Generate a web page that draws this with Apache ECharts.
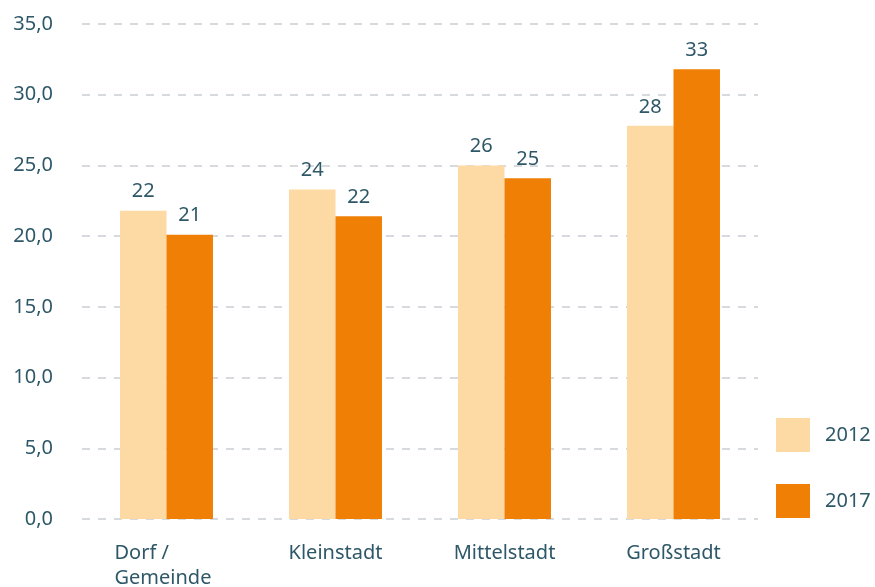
<!DOCTYPE html>
<html>
<head>
<meta charset="utf-8">
<script src="https://cdn.jsdelivr.net/npm/echarts@6/dist/echarts.min.js"></script>
<style>
  html, body { margin: 0; padding: 0; background: #fff; }
  #chart { width: 875px; height: 587px; }
</style>
</head>
<body>
<div id="chart"></div>
<script>
// Kategorien und Werte
var categories = ['Dorf / Gemeinde', 'Kleinstadt', 'Mittelstadt', 'Großstadt'];
var values2012 = [21.8, 23.3, 25.0, 27.8];
var values2017 = [20.1, 21.4, 24.1, 31.8];
// Beschriftungen über den Balken
var labels2012 = [22, 24, 26, 28];
var labels2017 = [21, 22, 25, 33];

var textColor = '#2e5868';
var fontFamily = '"Noto Sans", "Open Sans", sans-serif';
var fs = 20;

var myChart = echarts.init(document.getElementById('chart'));

function barLabel(labels) {
    return {
        show: true,
        position: 'top',
        distance: 9,
        color: textColor,
        fontSize: fs,
        fontFamily: fontFamily,
        formatter: function (p) { return labels[p.dataIndex]; }
    };
}

var option = {
    animation: false,
    grid: { left: 82, top: 24, width: 676, height: 495, outerBoundsMode: 'none' },
    legend: {
        orient: 'vertical',
        left: 771,
        top: 413,
        itemWidth: 34,
        itemHeight: 34,
        itemGap: 32,
        icon: 'rect',
        textStyle: { color: textColor, fontSize: fs, fontFamily: fontFamily, padding: [0, 0, 0, 10] },
        data: ['2012', '2017']
    },
    xAxis: {
        type: 'category',
        data: categories,
        axisLine: { show: false },
        axisTick: { show: false },
        axisLabel: {
            margin: 22,
            color: textColor,
            fontSize: fs,
            fontFamily: fontFamily,
            lineHeight: 25,
            formatter: function (v) {
                if (v === 'Dorf / Gemeinde') return '{l|Dorf /}\n{l|Gemeinde}';
                return v;
            },
            rich: {
                l: { width: 104, align: 'left', color: textColor, fontSize: fs, fontFamily: fontFamily, lineHeight: 25 }
            }
        }
    },
    yAxis: {
        type: 'value',
        min: 0,
        max: 35,
        interval: 5,
        axisLine: { show: false },
        axisTick: { show: false },
        axisLabel: {
            margin: 29,
            color: textColor,
            fontSize: fs,
            fontFamily: fontFamily,
            formatter: function (v) { return v.toFixed(1).replace('.', ','); }
        },
        splitLine: { lineStyle: { color: '#c9ced3', type: [8, 8], width: 1.5 } }
    },
    series: [
        {
            name: '2012',
            type: 'bar',
            data: values2012,
            barGap: 0,
            barCategoryGap: '45%',
            itemStyle: { color: '#fdd9a4' },
            label: barLabel(labels2012)
        },
        {
            name: '2017',
            type: 'bar',
            data: values2017,
            itemStyle: { color: '#ef7f05' },
            label: barLabel(labels2017)
        }
    ]
};

myChart.setOption(option);
window.onresize = function () {
    myChart.resize();
};
</script>
</body>
</html>
